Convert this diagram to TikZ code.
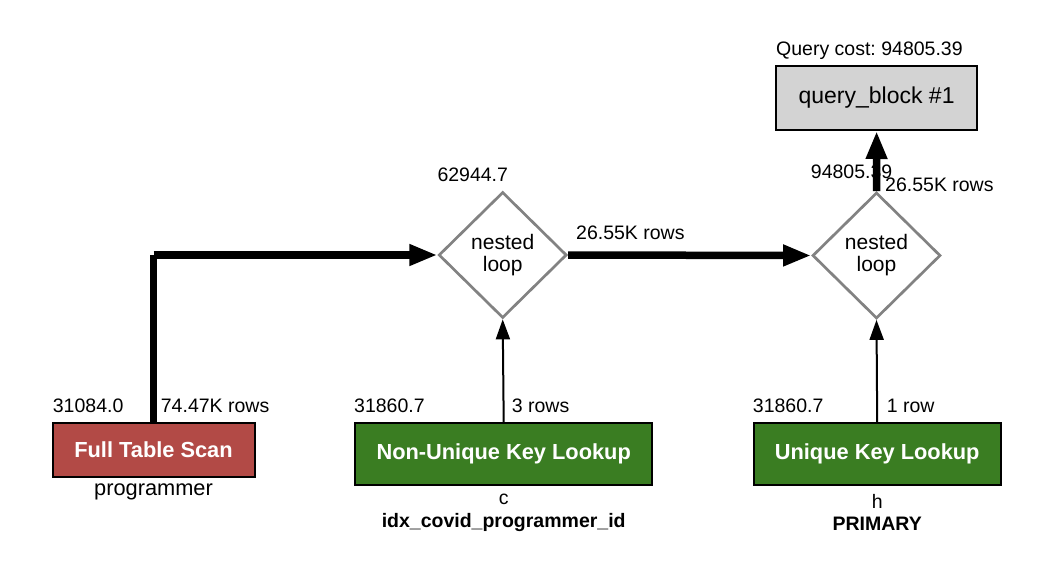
\documentclass[tikz,border=0pt]{standalone}
\usepackage{fontspec}
\setmainfont{Liberation Sans}
\usetikzlibrary{arrows.meta,shapes.geometric}
\definecolor{scanred}{RGB}{178,74,70}
\definecolor{lookgreen}{RGB}{58,125,34}
\definecolor{qgray}{RGB}{211,211,211}
\definecolor{dgray}{RGB}{130,130,130}
\frenchspacing
\tikzset{
  lbl/.style={font=\fontsize{19.5}{22}\selectfont, inner sep=0pt, anchor=base west},
  sublbl/.style={font=\fontsize{21.8}{24}\selectfont, inner sep=0pt, anchor=base},
  smalllbl/.style={font=\fontsize{19.5}{22}\selectfont, inner sep=0pt, anchor=base},
  boldlbl/.style={font=\bfseries\fontsize{19.5}{22}\selectfont, inner sep=0pt, anchor=base},
  opbox/.style={draw=black, line width=2pt, text=white, font=\bfseries\fontsize{21.8}{24}\selectfont, minimum height=62pt, inner sep=0pt},
  loopnode/.style={diamond, draw=dgray, line width=2.7pt, minimum width=128pt, minimum height=126pt, inner sep=0pt, align=center, font=\fontsize{21}{22}\selectfont},
  thickflow/.style={line width=7.5pt, -{Triangle[length=28pt,width=20pt]}},
  thinflow/.style={line width=2pt, -{Triangle[length=20pt,width=14pt]}},
}
\begin{document}
\begin{tikzpicture}[x=1pt,y=-1pt]
\useasboundingbox (0,0) rectangle (1038,582);

% nodes
\node[draw=black, line width=2pt, fill=qgray, minimum width=201pt, minimum height=64pt, inner sep=0pt, font=\fontsize{23}{26}\selectfont] (qb) at (876.6,98) {query\_block \#1};
\node[loopnode] (nl1) at (502.7,255) {nested\\loop};
\node[loopnode] (nl2) at (876.5,255.5) {nested\\loop};
\node[opbox, fill=scanred, minimum width=202pt, minimum height=54pt] (fts) at (153.5,450) {Full Table Scan};
\node[opbox, fill=lookgreen, minimum width=297pt] (nukl) at (503.7,454) {Non-Unique Key Lookup};
\node[opbox, fill=lookgreen, minimum width=247pt] (ukl) at (877.2,454) {Unique Key Lookup};

% labels
\node[lbl] (qc) at (776,55) {Query cost: 94805.39};
\node[lbl] (c1) at (52.7,412) {31084.0};
\node[lbl] (r1) at (160.7,412) {74.47K rows};
\node[lbl] (c2) at (354,412) {31860.7};
\node[lbl] (r2) at (511.7,412) {3 rows};
\node[lbl] (c3) at (752.7,412) {31860.7};
\node[lbl] (r3) at (886.7,412) {1 row};
\node[lbl] (c4) at (437.3,181.7) {62944.7};
\node[lbl] (r4) at (576,239.3) {26.55K rows};
\node[lbl] (c5) at (810.7,178) {94805.39};
\node[lbl] (r5) at (885,191.7) {26.55K rows};
\node[sublbl] (t1) at (153.5,495) {programmer};
\node[smalllbl] (t2) at (503.7,504) {c};
\node[boldlbl] (k2) at (503.7,527) {idx\_covid\_programmer\_id};
\node[smalllbl] (t3) at (877.2,508) {h};
\node[boldlbl] (k3) at (877.2,530) {PRIMARY};

% connectors
\coordinate (bend) at (fts.north |- nl1.west);
\draw[thickflow] (fts.north) -- (bend) (bend) -- (nl1.west);
\draw[thickflow] (nl1.east) -- (nl2.west);
\draw[thickflow] (nl2.north) -- (qb.south);
\draw[thinflow] (nukl.north) -- (nl1.south);
\draw[thinflow] (ukl.north) -- (nl2.south);
\end{tikzpicture}
\end{document}
